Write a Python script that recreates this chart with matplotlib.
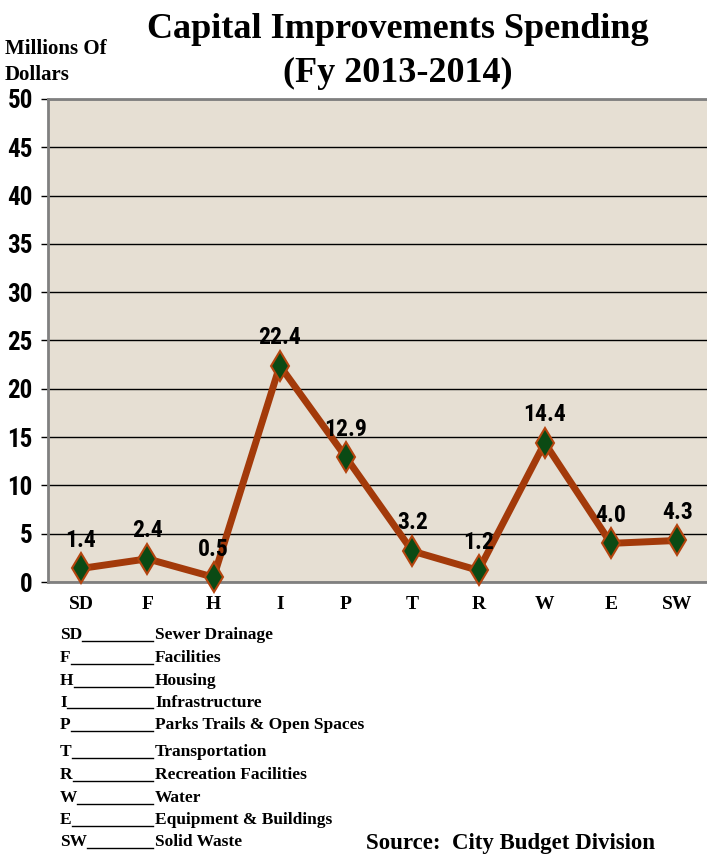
import matplotlib
matplotlib.use("Agg")
import matplotlib.pyplot as plt
from matplotlib.lines import Line2D

codes = ["SD", "F", "H", "I", "P", "T", "R", "W", "E", "SW"]
values = [1.4, 2.4, 0.5, 22.4, 12.9, 3.2, 1.2, 14.4, 4.0, 4.3]
descriptions = ["Sewer Drainage", "Facilities", "Housing", "Infrastructure",
                "Parks Trails & Open Spaces", "Transportation",
                "Recreation Facilities", "Water", "Equipment & Buildings",
                "Solid Waste"]
yticks = [0, 5, 10, 15, 20, 25, 30, 35, 40, 45, 50]

narrow = "Roboto Condensed"
serif = "Liberation Serif"

W, H = 707, 855
fig = plt.figure(figsize=(W/100, H/100), dpi=100)
fig.patch.set_facecolor("white")
ax = fig.add_axes([48/W, 1-582/H, 1-48/W, (582-99)/H])
ax.set_facecolor("#e6dfd3")
ax.set_xlim(-0.5, 9.45)
ax.set_ylim(0, 50)
ax.set_yticks(yticks)
ax.yaxis.grid(True, color="black", linewidth=1)
ax.set_axisbelow(True)
ax.set_xticks(range(len(codes)))
ax.set_xticklabels(codes, fontfamily=serif, fontweight="bold", fontsize=14)
ax.tick_params(axis="x", length=0, pad=10)
ax.tick_params(axis="y", length=5, width=1, color="black", pad=6)
for lbl in ax.get_yticklabels():
    lbl.set_fontfamily(narrow)
    lbl.set_fontweight("bold")
    lbl.set_fontsize(18)
for s in ["left", "top", "bottom"]:
    ax.spines[s].set_color("#808080")
    ax.spines[s].set_linewidth(2)
ax.spines["right"].set_visible(False)

x = list(range(len(codes)))
ax.plot(x, values, color="#a33a0a", linewidth=5, marker="d", markersize=15.5,
        markerfacecolor="#0b4a14", markeredgecolor="#b4440e", markeredgewidth=1.5,
        zorder=3, clip_on=False)
for xi, v in zip(x, values):
    ax.annotate(f"{v:.1f}", (xi, v), xytext=(0, 12), textcoords="offset points",
                ha="center", va="bottom", fontfamily=narrow, fontweight="bold",
                fontsize=17, zorder=4)

fig.text(398/W, 1-29/H, "Capital Improvements Spending", ha="center", va="center",
         fontfamily=serif, fontweight="bold", fontsize=26)
fig.text(398/W, 1-73/H, "(Fy 2013-2014)", ha="center", va="center",
         fontfamily=serif, fontweight="bold", fontsize=26)
fig.text(5/W, 1-49/H, "Millions Of", ha="left", va="center",
         fontfamily=serif, fontweight="bold", fontsize=15)
fig.text(5/W, 1-75/H, "Dollars", ha="left", va="center",
         fontfamily=serif, fontweight="bold", fontsize=15)

rows_y = [635, 658, 681, 703, 725, 752, 775, 798, 820, 842]
fig.canvas.draw()
r = fig.canvas.get_renderer()
for c, d, yy in zip(codes, descriptions, rows_y):
    t = fig.text(60/W, 1-yy/H, c, ha="left", va="center", fontfamily=serif,
                 fontweight="bold", fontsize=12.5)
    fig.text(155/W, 1-yy/H, d, ha="left", va="center", fontfamily=serif,
             fontweight="bold", fontsize=12.5)
    bb = t.get_window_extent(r)
    fig.add_artist(Line2D([bb.x1/W, 153/W], [bb.y0/H + 2.5/H]*2,
                          color="black", linewidth=1))

fig.text(510/W, 1-843/H, "Source:  City Budget Division", ha="center", va="center",
         fontfamily=serif, fontweight="bold", fontsize=16.5)

fig.savefig("out.png", dpi=100)
